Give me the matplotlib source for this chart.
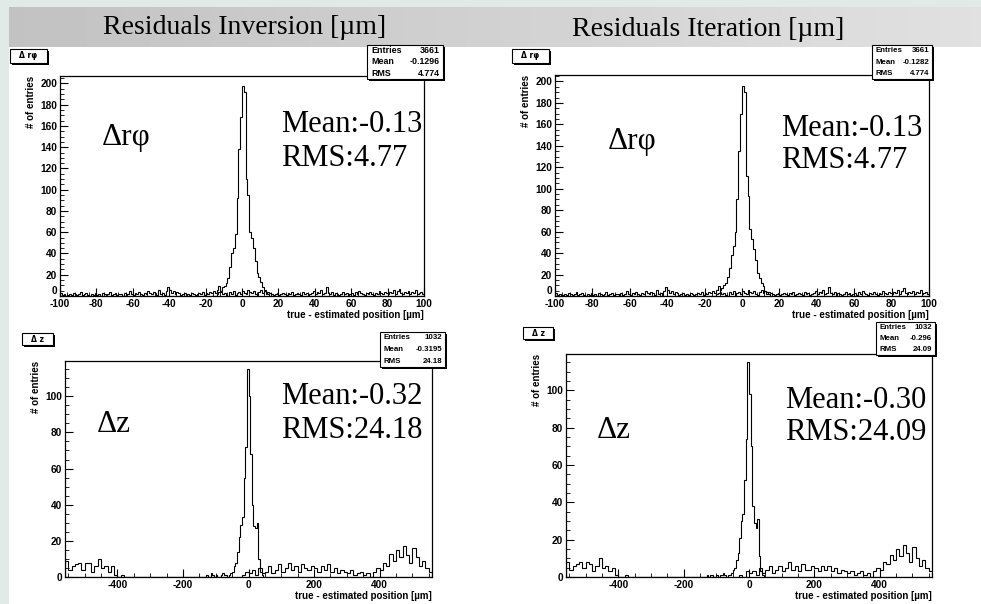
import numpy as np
import matplotlib.pyplot as plt
from matplotlib.patches import Rectangle
from matplotlib.ticker import MultipleLocator

plt.rcParams["axes.unicode_minus"] = False

W, H = 981, 604

# ---- data ----
# delta r-phi, 1 um bins from -100 to 100, peak bins start at -14
rphi_peak_start = -14
rphi_peak_inv = [2, 4, 5, 8, 9, 12, 17, 27, 40, 45, 58, 92, 138, 168,
                 198, 192, 110, 95, 60, 55, 45, 33, 22, 18, 13, 8, 6, 4, 2]
rphi_peak_itr = [2, 3, 6, 7, 10, 12, 18, 26, 38, 47, 60, 90, 135, 170,
                 196, 190, 112, 93, 62, 53, 44, 34, 21, 17, 12, 9, 5, 4, 2]
rphi_bg = [3, 1, 2, 0, 1, 2, 1, 3, 2, 1,
           2, 4, 1, 2, 3, 1, 0, 2, 1, 3,
           1, 2, 0, 3, 2, 1, 2, 4, 1, 2,
           3, 1, 2, 2, 0, 3, 1, 2, 5, 2,
           1, 3, 2, 4, 2, 1, 3, 2, 5, 3,
           2, 4, 3, 1, 6, 2, 3, 1, 5, 8,
           6, 3, 5, 2, 4, 3, 1, 2, 3, 1,
           2, 1, 3, 2, 1, 2, 3, 2, 4, 1,
           3, 2, 4, 3, 5, 3, 6, 9, 4, 2,
           3, 1, 0, 4, 2, 5, 1, 3, 4, 2,
           5, 3, 2, 6, 4, 3, 5, 2, 1, 4,
           6, 3, 5, 2, 4, 3, 2, 1, 2, 3,
           1, 2, 3, 2, 1, 3, 2, 4, 1, 2,
           3, 2, 1, 4, 2, 3, 1, 2, 3, 5,
           2, 4, 3, 6, 2, 3, 8, 3, 2, 4,
           1, 3, 2, 1, 2, 4, 2, 3, 1, 2,
           3, 1, 4, 2, 5, 3, 2, 1, 3, 2,
           4, 2, 1, 3, 2, 5, 3, 2, 4, 3,
           2, 4, 3, 6, 2, 5, 7, 3, 2, 4,
           3, 5, 2, 4, 3, 6, 2, 3, 4, 2]

# delta z, peak in 5 um bins starting at -130, background in 10 um bins
z_peak_start = -130
z_peak_inv = [1, 0, 0, 2, 1, 0, 1, 0, 0, 1, 2, 1,
              1, 0, 1, 2, 3, 6, 8, 14, 22, 29, 33, 55, 72, 115,
              100, 68, 40, 28, 27, 30, 10, 3, 1]
z_peak_itr = [1, 0, 1, 1, 0, 0, 1, 0, 1, 1, 2, 1,
              0, 1, 1, 2, 4, 5, 9, 13, 21, 30, 34, 52, 74, 115,
              98, 70, 38, 29, 26, 31, 11, 3, 1]
z_bg_inv = [9, 4, 6, 7, 8, 4, 8, 8, 3, 6, 10, 5, 6, 3, 6, 1,
            0, 1, 0, 0, 0, 0, 0, 0, 0, 0, 0, 0, 0, 0, 0, 0, 0, 0, 0, 0,
            0, 0, 0, 0, 0, 0, 0, 0, 0, 0, 0, 0, 0, 0, 0, 0, 0, 0, 1, 3,
            2, 4, 1, 5, 2, 3, 6, 2, 4, 7, 3, 5, 8, 4, 6, 3, 7, 5, 4, 6,
            5, 3, 6, 4, 7, 3, 5, 2, 4, 3, 2, 4, 1, 2, 3, 1, 2, 0, 3, 5,
            4, 8, 6, 13, 9, 15, 11, 17, 12, 8, 16, 11, 6, 9, 5, 3]
z_bg_itr = [8, 4, 6, 7, 8, 5, 8, 7, 3, 6, 10, 5, 6, 3, 5, 1,
            0, 0, 1, 0, 0, 0, 0, 0, 0, 0, 0, 0, 0, 0, 0, 0, 0, 0, 0, 0,
            0, 0, 0, 0, 0, 0, 0, 0, 0, 0, 0, 0, 0, 0, 0, 0, 0, 1, 0, 3,
            2, 3, 1, 5, 2, 4, 6, 2, 4, 6, 3, 5, 8, 4, 6, 3, 7, 4, 4, 6,
            5, 3, 6, 4, 6, 3, 5, 2, 4, 3, 2, 3, 1, 2, 3, 1, 2, 0, 3, 5,
            4, 8, 7, 12, 9, 15, 11, 17, 13, 8, 16, 10, 6, 9, 5, 3]

titles = ["Residuals Inversion [µm]", "Residuals Iteration [µm]"]
stats = [("3661", "-0.1296", "4.774"), ("3661", "-0.1282", "4.774"),
         ("1032", "-0.3195", "24.18"), ("1032", "-0.296", "24.09")]
big_stats = [("Mean:-0.13", "RMS:4.77"), ("Mean:-0.13", "RMS:4.77"),
             ("Mean:-0.32", "RMS:24.18"), ("Mean:-0.30", "RMS:24.09")]


def fbox(x0, y0, x1, y1):
    return [x0 / W, 1 - y1 / H, (x1 - x0) / W, (y1 - y0) / H]


def frect(fig, x0, y0, x1, y1, **kw):
    fig.add_artist(Rectangle((x0 / W, 1 - y1 / H), (x1 - x0) / W, (y1 - y0) / H,
                             transform=fig.transFigure, **kw))


def root_box(fig, x0, y0, x1, y1):
    frect(fig, x0 + 2, y0 + 2, x1 + 2, y1 + 2, facecolor="black", edgecolor="none")
    frect(fig, x0, y0, x1, y1, facecolor="white", edgecolor="black", lw=0.8)


def stats_box(fig, x0, y0, x1, y1, vals):
    root_box(fig, x0, y0, x1, y1)
    rows = ["Entries", "Mean", "RMS"]
    step = (y1 - y0) / 3
    fs = 6.4 if x1 - x0 > 70 else 5.7
    for i, (lab, v) in enumerate(zip(rows, vals)):
        yc = y0 + step * (i + 0.5)
        fig.text((x0 + 4) / W, 1 - yc / H, lab, fontsize=fs, fontweight="bold",
                 family="Liberation Sans", va="center", ha="left")
        fig.text((x1 - 3) / W, 1 - yc / H, v, fontsize=fs, fontweight="bold",
                 family="Liberation Sans", va="center", ha="right")


def hist_panel(fig, rect, series, xlim, ylim, xmaj, xmin, ymin):
    ax = fig.add_axes(fbox(*rect))
    for e, v in series:
        ax.stairs(v, e, color="black", lw=0.8)
    ax.set_xlim(*xlim)
    ax.set_ylim(*ylim)
    ax.set_xticks(np.arange(-xmaj * (abs(xlim[0]) // xmaj), xlim[1] + 0.1, xmaj))
    ax.xaxis.set_minor_locator(MultipleLocator(xmin))
    ax.set_yticks(np.arange(0, ylim[1], 20))
    ax.yaxis.set_minor_locator(MultipleLocator(ymin))
    ax.tick_params(which="both", direction="in", top=False, right=False,
                   labelsize=7.3, pad=2)
    ax.tick_params(which="major", length=6, width=0.8)
    ax.tick_params(which="minor", length=3, width=0.6)
    for lab in ax.get_xticklabels() + ax.get_yticklabels():
        lab.set_fontweight("bold")
        lab.set_family("Liberation Sans")
    for s in ax.spines.values():
        s.set_linewidth(0.9)
    ax.set_xlabel("true - estimated position [µm]", loc="right", fontsize=7,
                  fontweight="bold", family="Liberation Sans", labelpad=1)
    ax.set_ylabel("# of entries", loc="top", fontsize=7, fontweight="bold",
                  family="Liberation Sans", labelpad=3)
    return ax


fig = plt.figure(figsize=(W / 100, H / 100), dpi=100)
fig.patch.set_facecolor("white")

# slide border and title band
frect(fig, 0, 0, W, 7, facecolor="#e2eae8", edgecolor="none")
frect(fig, 0, 0, 9, H, facecolor="#e2eae8", edgecolor="none")
band = fig.add_axes(fbox(9, 7, W, 47))
band.imshow(np.linspace(0.76, 0.88, 200)[None, :], cmap="gray", vmin=0, vmax=1,
            aspect="auto")
band.axis("off")

fig.text(245 / W, 1 - 27 / H, titles[0], fontsize=20, family="Liberation Serif",
         ha="center", va="center")
fig.text(708 / W, 1 - 30 / H, titles[1], fontsize=20, family="Liberation Serif",
         ha="center", va="center")

rphi_edges = np.arange(-100, 101, 1)
z_edges5 = np.arange(-560, 561, 5)
z_edges10 = np.arange(-560, 561, 10)


def rphi_counts(peak):
    c = np.zeros(len(rphi_edges) - 1)
    i0 = rphi_peak_start + 100
    c[i0:i0 + len(peak)] = peak
    return c


def z_counts(peak):
    c = np.zeros(len(z_edges5) - 1)
    i0 = (z_peak_start + 560) // 5
    c[i0:i0 + len(peak)] = peak
    return c


panels = [
    dict(rect=(60, 76, 424, 296), series=[(rphi_edges, rphi_counts(rphi_peak_inv)), (rphi_edges, rphi_bg)],
         xlim=(-100, 100), ylim=(0, 207), xmaj=20, xmin=4,
         tbox=(10, 49, 47, 63), tlabel="Δ rφ", sbox=(367, 45, 443, 79),
         big=(102, 138), mtxt=(281, 125, 158)),
    dict(rect=(555, 75, 929, 296), series=[(rphi_edges, rphi_counts(rphi_peak_itr)), (rphi_edges, rphi_bg)],
         xlim=(-100, 100), ylim=(0, 206), xmaj=20, xmin=4,
         tbox=(512, 49, 549, 63), tlabel="Δ rφ", sbox=(872, 45, 932, 79),
         big=(608, 141), mtxt=(781, 128, 161)),
    dict(rect=(65, 361, 432, 577), series=[(z_edges5, z_counts(z_peak_inv)), (z_edges10, z_bg_inv)],
         xlim=(-560, 560), ylim=(0, 119.5), xmaj=200, xmin=50,
         tbox=(22, 333, 53, 345), tlabel="Δ z", sbox=(380, 332, 445, 367),
         big=(97, 425), mtxt=(281, 397, 430)),
    dict(rect=(566, 354, 932, 577), series=[(z_edges5, z_counts(z_peak_itr)), (z_edges10, z_bg_itr)],
         xlim=(-560, 560), ylim=(0, 119.5), xmaj=200, xmin=50,
         tbox=(523, 327, 553, 339), tlabel="Δ z", sbox=(876, 322, 935, 355),
         big=(597, 430), mtxt=(785, 400, 433)),
]

for p, st, bs in zip(panels, stats, big_stats):
    ax = hist_panel(fig, p["rect"], p["series"], p["xlim"], p["ylim"],
                    p["xmaj"], p["xmin"], 5)
    if p["xlim"][0] == -100:
        # the "0" on the y axis sits just above the "-100" on the x axis
        ax.yaxis.get_major_ticks()[0].label1.set_verticalalignment("bottom")
    x0, y0, x1, y1 = p["tbox"]
    root_box(fig, x0, y0, x1, y1)
    fig.text((x0 + x1) / 2 / W, 1 - (y0 + y1) / 2 / H, p["tlabel"], fontsize=5.5,
             fontweight="bold", family="DejaVu Sans", ha="center", va="center")
    stats_box(fig, *p["sbox"], st)
    bx, by = p["big"]
    fig.text(bx / W, 1 - by / H, p["tlabel"].replace(" ", ""), fontsize=22.5,
             family="Liberation Serif", ha="left", va="center")
    mx, my1, my2 = p["mtxt"]
    fig.text(mx / W, 1 - my1 / H, bs[0], fontsize=22, family="Liberation Serif",
             ha="left", va="center")
    fig.text(mx / W, 1 - my2 / H, bs[1], fontsize=22, family="Liberation Serif",
             ha="left", va="center")

fig.savefig("out.png", dpi=100)
